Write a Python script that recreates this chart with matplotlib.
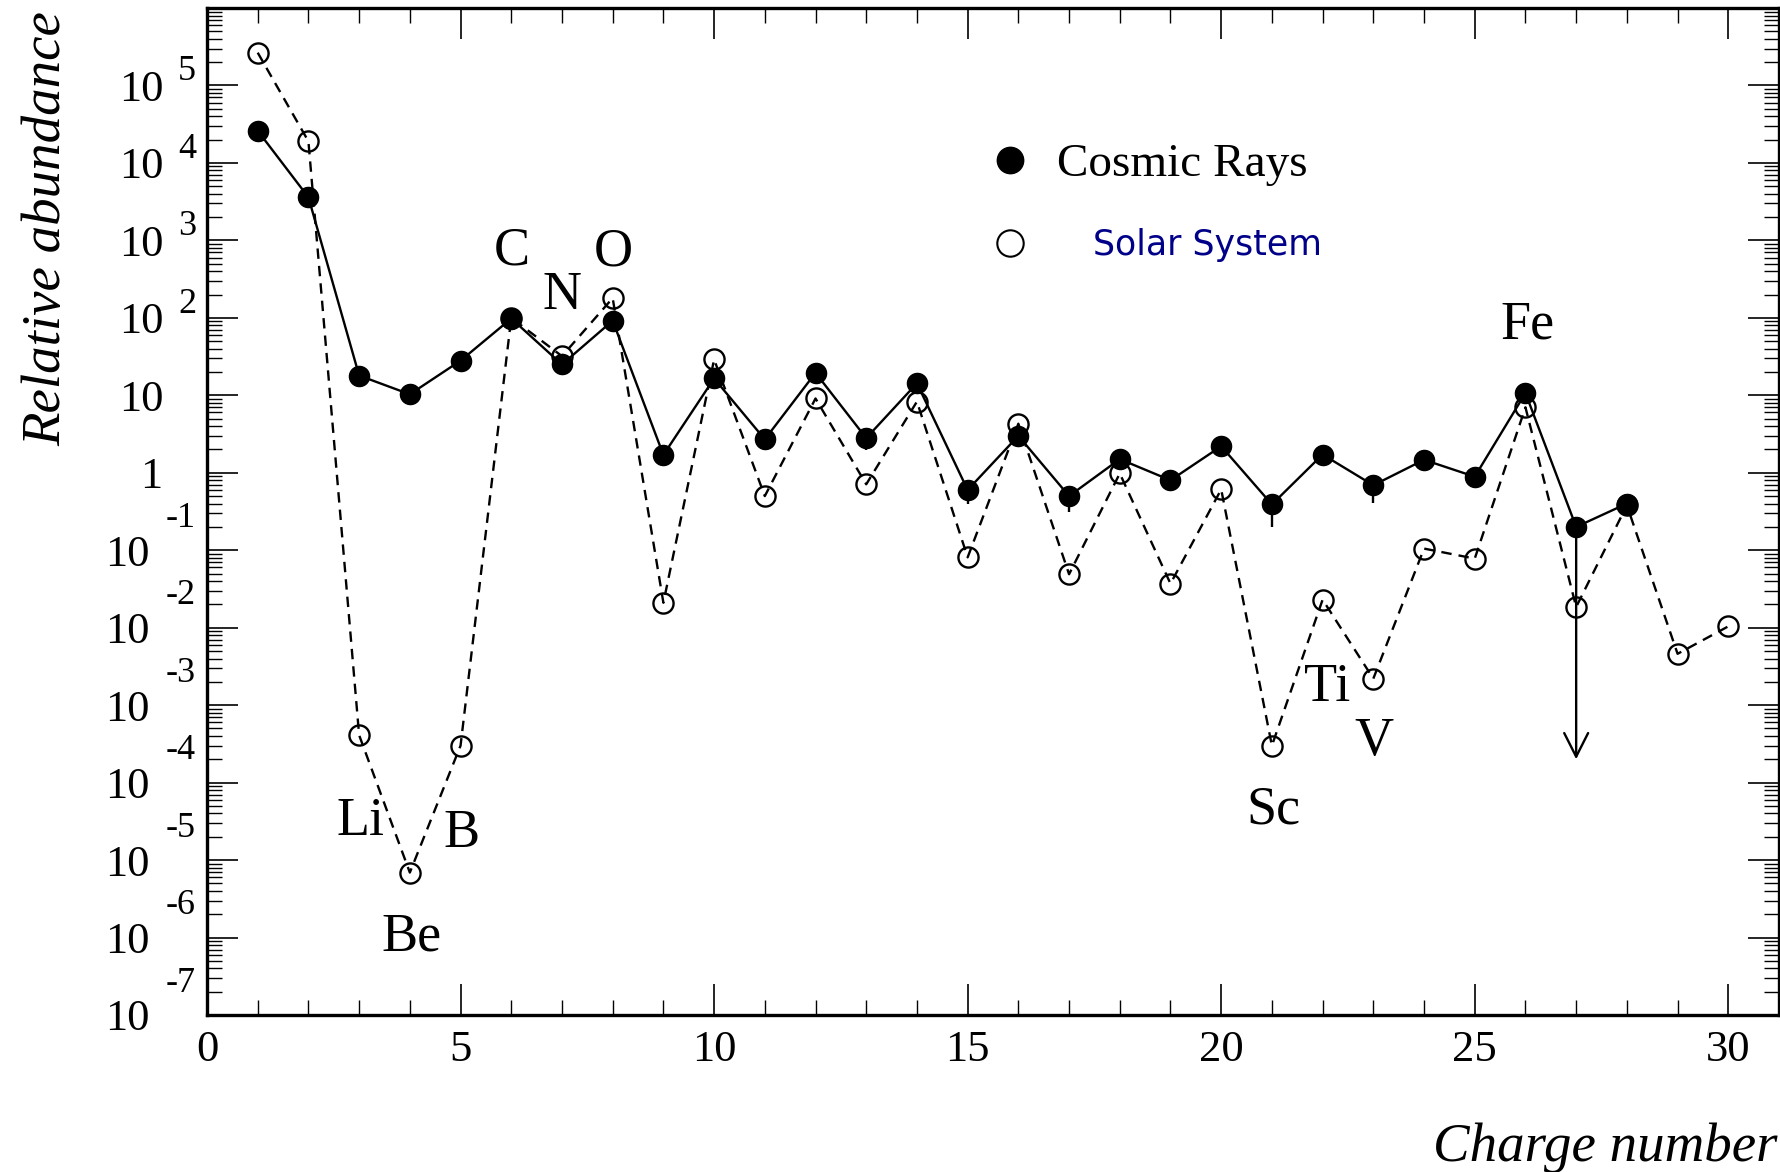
import matplotlib
matplotlib.use('Agg')
import matplotlib.pyplot as plt
import numpy as np
from matplotlib.lines import Line2D
from matplotlib.ticker import FixedLocator, FixedFormatter, LogLocator, MultipleLocator, NullFormatter

plt.rcParams['font.family'] = ['Liberation Serif', 'DejaVu Serif']
plt.rcParams['mathtext.fontset'] = 'stix'

# ---------------- data ----------------
cosmic_z = list(range(1, 29))
cosmic_rays = [2.6e4, 3.6e3, 18, 10.3, 28, 98, 25, 92, 1.7, 16.5,
               2.7, 19.5, 2.8, 14.3, 0.6, 3.0, 0.5, 1.5, 0.8, 2.2,
               0.39, 1.72, 0.69, 1.47, 0.89, 10.7, 0.2, 0.4]

solar_z = list(range(1, 31))
solar_system = [2.65e5, 1.9e4, 4.1e-4, 6.9e-6, 3.0e-4, 100, 32, 180, 0.021, 29,
                0.5, 9.1, 0.71, 8.3, 0.081, 4.3, 0.049, 0.98, 0.037, 0.61,
                3.0e-4, 0.023, 2.2e-3, 0.105, 0.078, 7.0, 0.0185, 0.38, 4.6e-3, 0.0104]

# lower ends of the visible error bars on the cosmic-ray points
err_z = [13, 15, 17, 21, 23]
err_low = [1.96, 0.40, 0.31, 0.197, 0.41]

# upper limit arrow (Z = 27)
limit_z = 27
limit_to = 2.0e-4

element_names = ['Li', 'Be', 'B', 'C', 'N', 'O', 'Sc', 'Ti', 'V', 'Fe']
element_x = [3.03, 4.04, 5.01, 6.01, 7.0, 8.02, 21.04, 22.09, 23.02, 26.04]
element_y = [2.12e-5, 6.76e-7, 1.46e-5, 490, 128.5, 475, 2.95e-5, 1.146e-3, 2.24e-4, 54.7]

xtick_vals = [0, 5, 10, 15, 20, 25, 30]
xtick_labels = ['0', '5', '10', '15', '20', '25', '30']

ytick_exp = list(range(-7, 6))
ytick_base = ['10'] * 7 + ['1', '10'] + ['10'] * 4
ytick_sup = ['-7', '-6', '-5', '-4', '-3', '-2', '-1', '', '', '2', '3', '4', '5']

legend_labels = ['Cosmic Rays', 'Solar System']

# ---------------- figure ----------------
W, H = 1781, 1172
fig = plt.figure(figsize=(W / 100, H / 100), dpi=100)
ax = fig.add_axes([207 / W, 1 - 1015 / H, (1779 - 207) / W, (1015 - 8) / H])

ax.set_yscale('log')
ax.set_xlim(0, 31)
ax.set_ylim(1e-7, 1e6)

dash = (0, (4.4, 3.0))
ax.plot(solar_z, solar_system, linestyle=dash, color='k', lw=1.7,
        marker='o', ms=14.5, mfc='none', mec='k', mew=1.7, zorder=2)

cr_at = np.array([cosmic_rays[z - 1] for z in err_z])
ax.errorbar(err_z, cr_at, yerr=[cr_at - np.array(err_low), np.zeros(len(err_z))],
            fmt='none', ecolor='k', elinewidth=1.7, capsize=0, zorder=2.5)

ax.plot(cosmic_z, cosmic_rays, '-', color='k', lw=1.7,
        marker='o', ms=14.5, mfc='k', mec='k', mew=1, zorder=3)

ax.annotate('', xy=(limit_z, limit_to), xytext=(limit_z, cosmic_rays[limit_z - 1]),
            arrowprops=dict(arrowstyle='->,head_length=0.85,head_width=0.43',
                            lw=1.7, color='k', shrinkA=0, shrinkB=0,
                            mutation_scale=20), zorder=2.6)

for name, x, y in zip(element_names, element_x, element_y):
    ax.text(x, y, name, ha='center', va='baseline', fontsize=39)

# ---------------- axes styling ----------------
for sp in ax.spines.values():
    sp.set_linewidth(2.4)

ax.xaxis.set_major_locator(FixedLocator(xtick_vals))
ax.xaxis.set_major_formatter(FixedFormatter(xtick_labels))
ax.xaxis.set_minor_locator(MultipleLocator(1))

ax.yaxis.set_major_locator(FixedLocator([10.0 ** e for e in ytick_exp]))
ax.yaxis.set_major_formatter(FixedFormatter(ytick_base))
ax.yaxis.set_minor_locator(LogLocator(base=10, subs=np.arange(2, 10), numticks=100))
ax.yaxis.set_minor_formatter(NullFormatter())

ax.tick_params(axis='both', which='both', direction='in', top=True, right=True)
ax.tick_params(which='major', length=22.5, width=1.2)
ax.tick_params(which='minor', length=11, width=1.0)
ax.tick_params(axis='x', which='major', labelsize=32, pad=11)
ax.tick_params(axis='y', which='major', labelsize=32, pad=31.5)

for tick, e in zip(ax.yaxis.get_major_ticks(), ytick_exp):
    if e < 0:
        tick.set_pad(41)
    elif e == 0:
        tick.set_pad(32.5)

for e, s in zip(ytick_exp, ytick_sup):
    if s:
        ax.annotate(s, xy=(196 / W, 10.0 ** e), xycoords=('figure fraction', 'data'),
                    xytext=(0, 23 if e < 0 else 9.8), textcoords='offset points',
                    ha='right', va='center', fontsize=26)

# ---------------- legend ----------------
h1 = Line2D([], [], ls='none', marker='o', ms=19, mfc='k', mec='k', mew=1)
leg1 = ax.legend([h1], [legend_labels[0]], loc='center left',
                 bbox_to_anchor=(0.4955, 0.8444), frameon=False,
                 prop={'family': 'Liberation Serif', 'size': 34},
                 handlelength=1.0, handletextpad=0.5, borderpad=0, borderaxespad=0)
ax.add_artist(leg1)
h2 = Line2D([], [], ls='none', marker='o', ms=19, mfc='none', mec='k', mew=1.5)
leg2 = ax.legend([h2], [legend_labels[1]], loc='center left',
                 bbox_to_anchor=(0.4955, 0.7644), frameon=False,
                 prop={'family': 'DejaVu Sans', 'size': 25},
                 handlelength=1.36, handletextpad=1.71, borderpad=0, borderaxespad=0,
                 labelcolor='#000088')

# ---------------- axis titles ----------------
fig.text(0.9983, 0.0094, 'Charge number', ha='right', va='baseline',
         fontsize=39.5, style='italic')
fig.text(0.0265, 0.8049, 'Relative abundance', rotation=90, ha='center', va='center',
         fontsize=39.5, style='italic')

fig.savefig('out.png', dpi=100)
